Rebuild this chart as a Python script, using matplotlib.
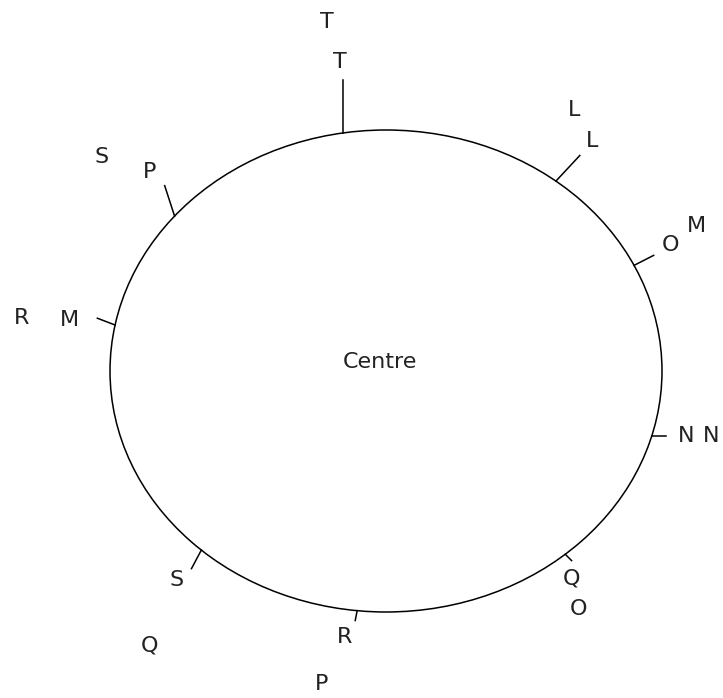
import matplotlib
matplotlib.use("Agg")
import matplotlib.pyplot as plt
from matplotlib.patches import Ellipse
import numpy as np

plt.rcParams['font.family'] = ['DejaVu Sans']

# ellipse (pixel space, y down)
centre = (386, 371)
width, height = 552, 482

# points on the ellipse: parametric angle (deg), tick direction (deg), tick length
point_angle = [99, 52, 26, -15.6, -49.5, -96, -132, 169, 140]
tick_angle = [90, 47, 27, 0, -45, -101, -118, 159, 108]
tick_len = [53, 35, 22, 14, 9, 10, 21, 19, 32]

# label pairs: inner label and outer label (screen polar from centre)
inner_labels = ['T', 'L', 'O', 'N', 'Q', 'R', 'S', 'M', 'P']
inner_ang = [98.5, 48.2, 23.9, -12.2, -48.2, -98.8, -135.1, 170.9, 140.0]
inner_r = [312, 309, 311, 307, 279, 269, 296, 321, 309]

outer_labels = ['T', 'L', 'M', 'N', 'O', 'P', 'Q', 'R', 'S']
outer_ang = [99.6, 54.2, 25.0, -11.3, -51.1, -101.7, -130.7, 171.7, 143.0]
outer_r = [354, 322, 343, 332, 306, 320, 362, 368, 356]

fig = plt.figure(figsize=(7.23, 6.98), dpi=100)
ax = fig.add_axes([0, 0, 1, 1])
ax.set_xlim(0, 723)
ax.set_ylim(698, 0)
ax.axis('off')

ax.add_patch(Ellipse(centre, width, height, fill=False, edgecolor='black', lw=1.1))

a, b = width / 2, height / 2
cx, cy = centre
for t, ta, tl in zip(point_angle, tick_angle, tick_len):
    t = np.radians(t)
    x0 = cx + a * np.cos(t)
    y0 = cy - b * np.sin(t)
    ta = np.radians(ta)
    ax.plot([x0, x0 + tl * np.cos(ta)], [y0, y0 - tl * np.sin(ta)], color='black', lw=1.1)

def put(labels, angs, rs):
    for lab, ang, r in zip(labels, angs, rs):
        ang = np.radians(ang)
        ax.text(cx + r * np.cos(ang), cy - r * np.sin(ang), lab,
                ha='center', va='center', fontsize=16, color='#222222')

put(inner_labels, inner_ang, inner_r)
put(outer_labels, outer_ang, outer_r)

ax.text(380, 362, 'Centre', ha='center', va='center', fontsize=16, color='#222222')

fig.savefig('out.png', dpi=100)
